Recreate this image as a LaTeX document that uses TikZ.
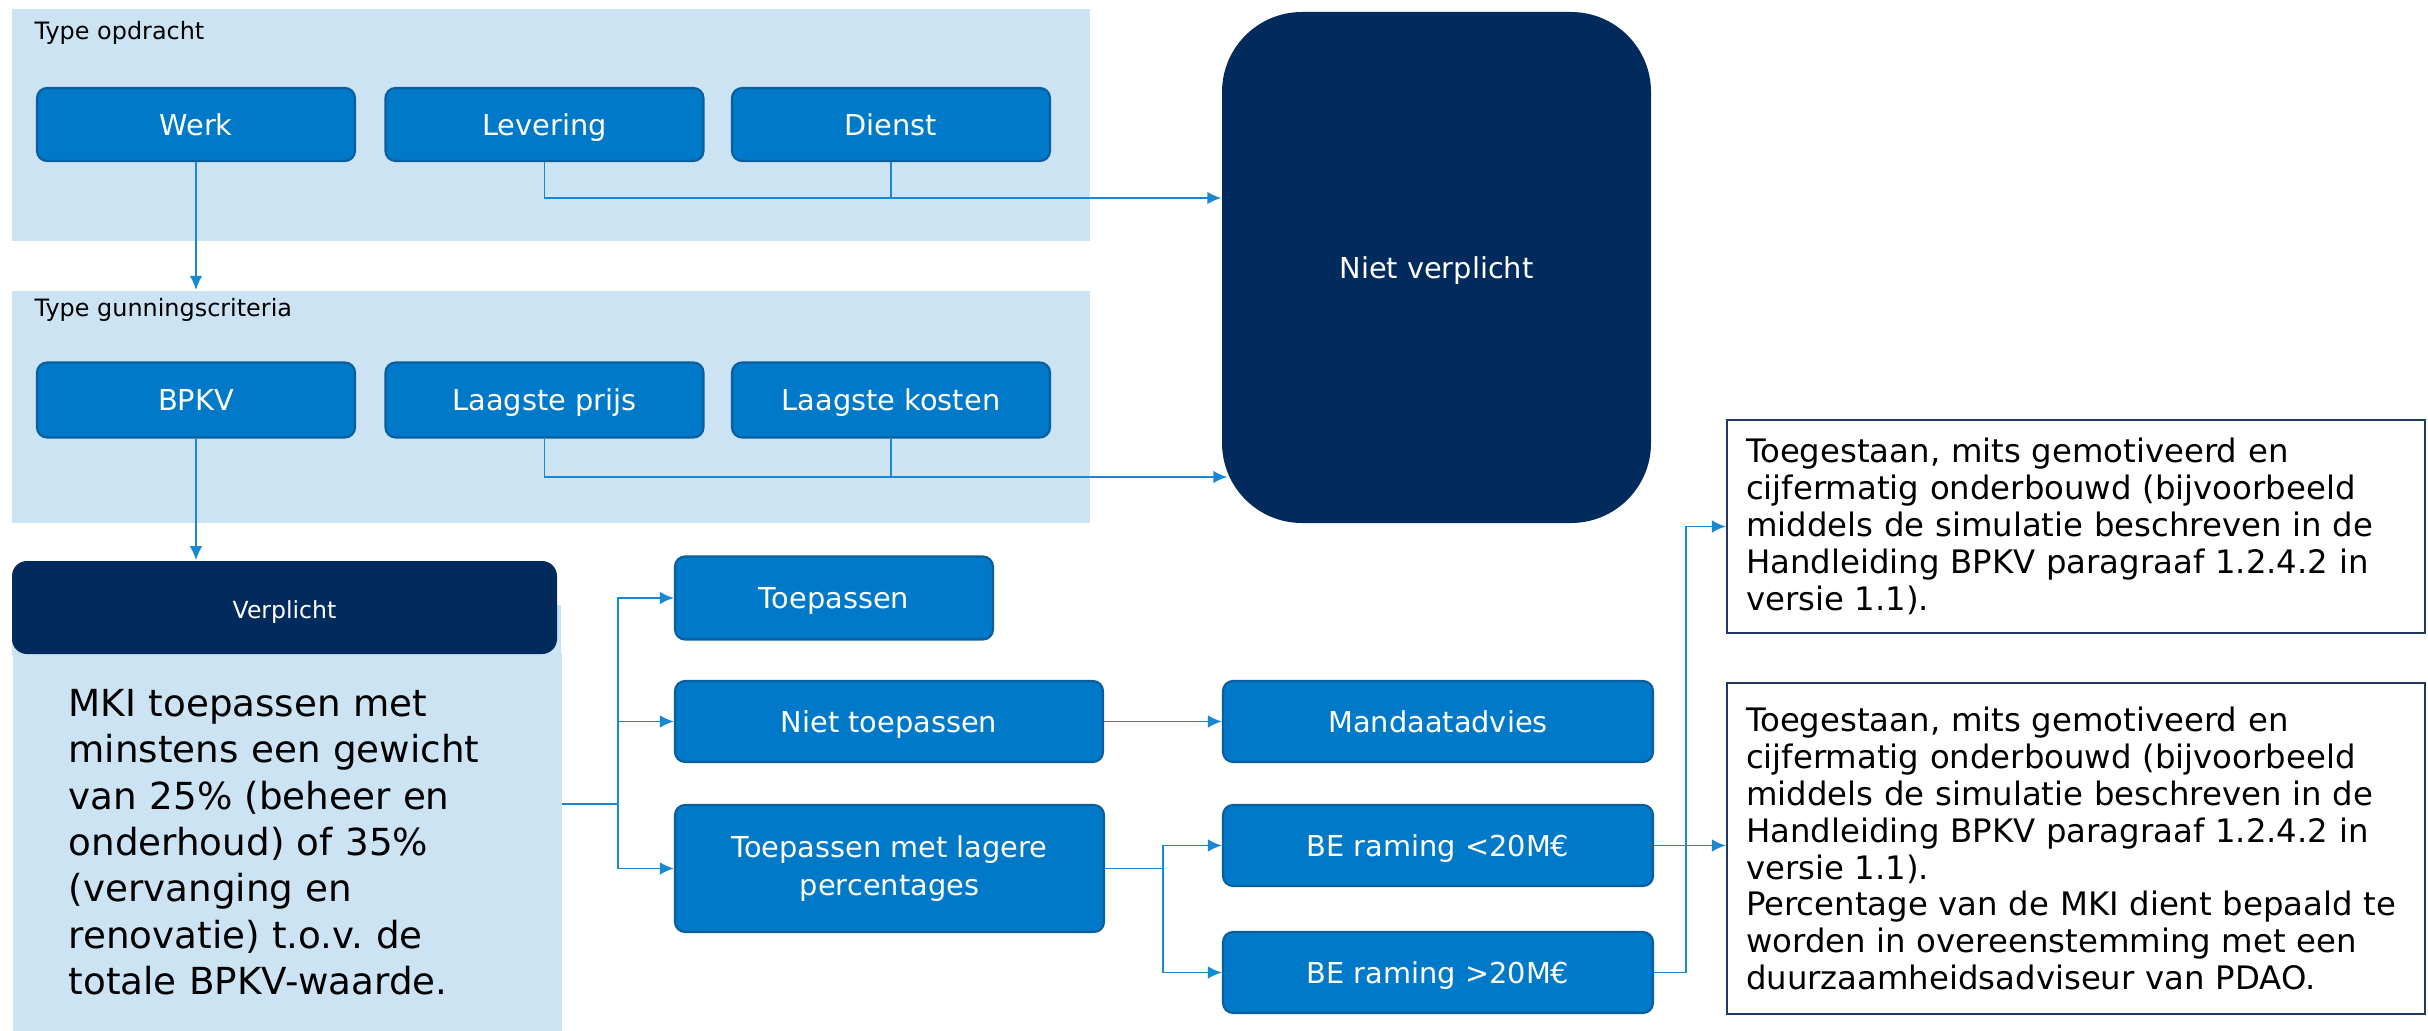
\documentclass[tikz,border=0pt]{standalone}
\usepackage{fontspec}
\setmainfont{DejaVu Sans}
\usetikzlibrary{positioning,arrows.meta}
\definecolor{lichtblauw}{HTML}{CCE3F3}
\definecolor{blauw}{HTML}{0079C8}
\definecolor{blauwrand}{HTML}{0B5E9E}
\definecolor{navy}{HTML}{002B5C}
\definecolor{lijn}{HTML}{1A87D3}
\definecolor{kaderrand}{HTML}{1F3864}
\tikzset{>={Latex[length=4pt,width=3.6pt]}}
\tikzset{
  paneel/.style={rectangle,fill=lichtblauw,anchor=north west,inner sep=0pt},
  kop/.style={anchor=west,inner sep=0pt,font=\fontsize{6.8}{8}\selectfont},
  stap/.style={rectangle,rounded corners=0.1cm,fill=blauw,draw=blauwrand,line width=0.6pt,
    text=white,align=center,inner sep=0pt,font=\fontsize{8.2}{11}\selectfont},
  regel/.style={text height=1.55ex,text depth=0.45ex},
  donker/.style={rectangle,fill=navy,text=white,inner sep=0pt},
  kader/.style={rectangle,draw=kaderrand,line width=0.6pt,fill=white,align=left,
    text width=6.6cm,inner xsep=0.19cm,inner ysep=0pt,minimum width=6.98cm,
    font=\fontsize{9.2}{10.5}\selectfont\frenchspacing},
  verbind/.style={draw=lijn,line width=0.55pt},
}

\begin{document}
\begin{tikzpicture}
  \pgfmathsetmacro{\rijA}{-1.245};
  \pgfmathsetmacro{\rijB}{-4.00};
  \useasboundingbox (0,0) rectangle (24.28,-10.31);

  % type opdracht
  \node[paneel,minimum width=10.78cm,minimum height=2.32cm] (opdracht) at (0.11,-0.08) {};
  \node[kop] (opdrachtkop) at (0.34,-0.33) {Type opdracht};
  \node[stap,regel,minimum width=3.18cm,minimum height=0.73cm] (werk) at (1.96,\rijA) {Werk};
  \node[stap,regel,minimum width=3.18cm,minimum height=0.73cm] (levering) at (5.445,\rijA) {Levering};
  \node[stap,regel,minimum width=3.18cm,minimum height=0.73cm] (dienst) at (8.91,\rijA) {Dienst};

  % type gunningscriteria
  \node[paneel,minimum width=10.78cm,minimum height=2.32cm] (gunning) at (0.11,-2.90) {};
  \node[kop] (gunningkop) at (0.34,-3.10) {Type gunningscriteria};
  \node[stap,regel,minimum width=3.18cm,minimum height=0.75cm] (bpkv) at (1.96,\rijB) {BPKV};
  \node[stap,regel,minimum width=3.18cm,minimum height=0.75cm] (prijs) at (5.445,\rijB) {Laagste prijs};
  \node[stap,regel,minimum width=3.18cm,minimum height=0.75cm] (kosten) at (8.91,\rijB) {Laagste kosten};

  \node[donker,regel,rounded corners=0.8cm,minimum width=4.29cm,minimum height=5.11cm,
        font=\fontsize{8.2}{11}\selectfont] (nietverplicht) at (14.365,-2.675) {Niet verplicht};

  % verplicht
  \fill[lichtblauw] (0.12,-6.05) rectangle (5.61,-6.55);
  \node[paneel,minimum width=5.49cm,minimum height=3.79cm,text width=4.37cm,inner xsep=0.56cm,
        align=left,font=\fontsize{10.6}{13.2}\selectfont\frenchspacing] (mki) at (0.12,-6.52)
        {MKI toepassen met\\minstens een gewicht\\van 25\% (beheer en\\onderhoud) of 35\%\\(vervanging en\\renovatie) t.o.v. de\\totale BPKV-waarde.};
  \node[donker,regel,rounded corners=0.15cm,minimum width=5.45cm,minimum height=0.93cm,
        font=\fontsize{6.7}{8}\selectfont] (verplicht) at (2.845,-6.075) {Verplicht};

  \node[stap,regel,minimum width=3.18cm,minimum height=0.83cm] (toepassen) at (8.34,-5.98) {Toepassen};
  \node[stap,regel,minimum width=4.28cm,minimum height=0.81cm] (niettoepassen) at (8.89,-7.215) {Niet toepassen};
  \node[stap,minimum width=4.29cm,minimum height=1.27cm] (lager) at (8.895,-8.685)
        {Toepassen met lagere\\percentages};
  \node[stap,regel,minimum width=4.30cm,minimum height=0.81cm] (mandaat) at (14.38,-7.215) {Mandaatadvies};
  \node[stap,regel,minimum width=4.30cm,minimum height=0.81cm] (beklein) at (14.38,-8.455) {BE raming <20M€};
  \node[stap,regel,minimum width=4.30cm,minimum height=0.81cm] (begroot) at (14.38,-9.725) {BE raming >20M€};

  \node[kader,minimum height=2.13cm] (toegestaan) at (20.76,-5.265)
        {Toegestaan, mits gemotiveerd en\\cijfermatig onderbouwd (bijvoorbeeld\\middels de simulatie beschreven in de\\Handleiding BPKV paragraaf 1.2.4.2 in\\versie 1.1).};
  \node[kader,minimum height=3.31cm] (percentage) at (20.76,-8.485)
        {Toegestaan, mits gemotiveerd en\\cijfermatig onderbouwd (bijvoorbeeld\\middels de simulatie beschreven in de\\Handleiding BPKV paragraaf 1.2.4.2 in\\versie 1.1).\\Percentage van de MKI dient bepaald te\\worden in overeenstemming met een\\duurzaamheidsadviseur van PDAO.};

  % verbindingen
  \coordinate (hoogA) at (0,-1.98);
  \coordinate (hoogB) at (0,-4.77);
  \coordinate (splitsMKI) at (6.18,-8.04);
  \coordinate (splitsBE) at (11.63,-8.685);
  \coordinate (rechts) at (16.86,0);
  \draw[verbind,->] (werk.south) -- (werk.south |- gunning.north);
  \draw[verbind,->] (levering.south) |- (nietverplicht.west |- hoogA);
  \draw[verbind] (dienst.south) -- (dienst.south |- hoogA);
  \draw[verbind,->] (bpkv.south) -- (bpkv.south |- verplicht.north);
  \draw[verbind,->] (prijs.south) |- ([xshift=0.06cm]nietverplicht.west |- hoogB);
  \draw[verbind] (kosten.south) -- (kosten.south |- hoogB);
  \draw[verbind] (mki.east |- splitsMKI) -- (splitsMKI);
  \draw[verbind,->] (splitsMKI) |- (toepassen.west);
  \draw[verbind,->] (splitsMKI) |- (niettoepassen.west);
  \draw[verbind,->] (splitsMKI) |- (lager.west);
  \draw[verbind,->] (niettoepassen.east) -- (mandaat.west);
  \draw[verbind] (lager.east) -- (splitsBE);
  \draw[verbind,->] (splitsBE) |- (beklein.west);
  \draw[verbind,->] (splitsBE) |- (begroot.west);
  \draw[verbind,->] (begroot.east) -| (rechts |- toegestaan.west) -- (toegestaan.west);
  \draw[verbind,->] (beklein.east) -- (beklein.east -| percentage.west);
\end{tikzpicture}
\end{document}
